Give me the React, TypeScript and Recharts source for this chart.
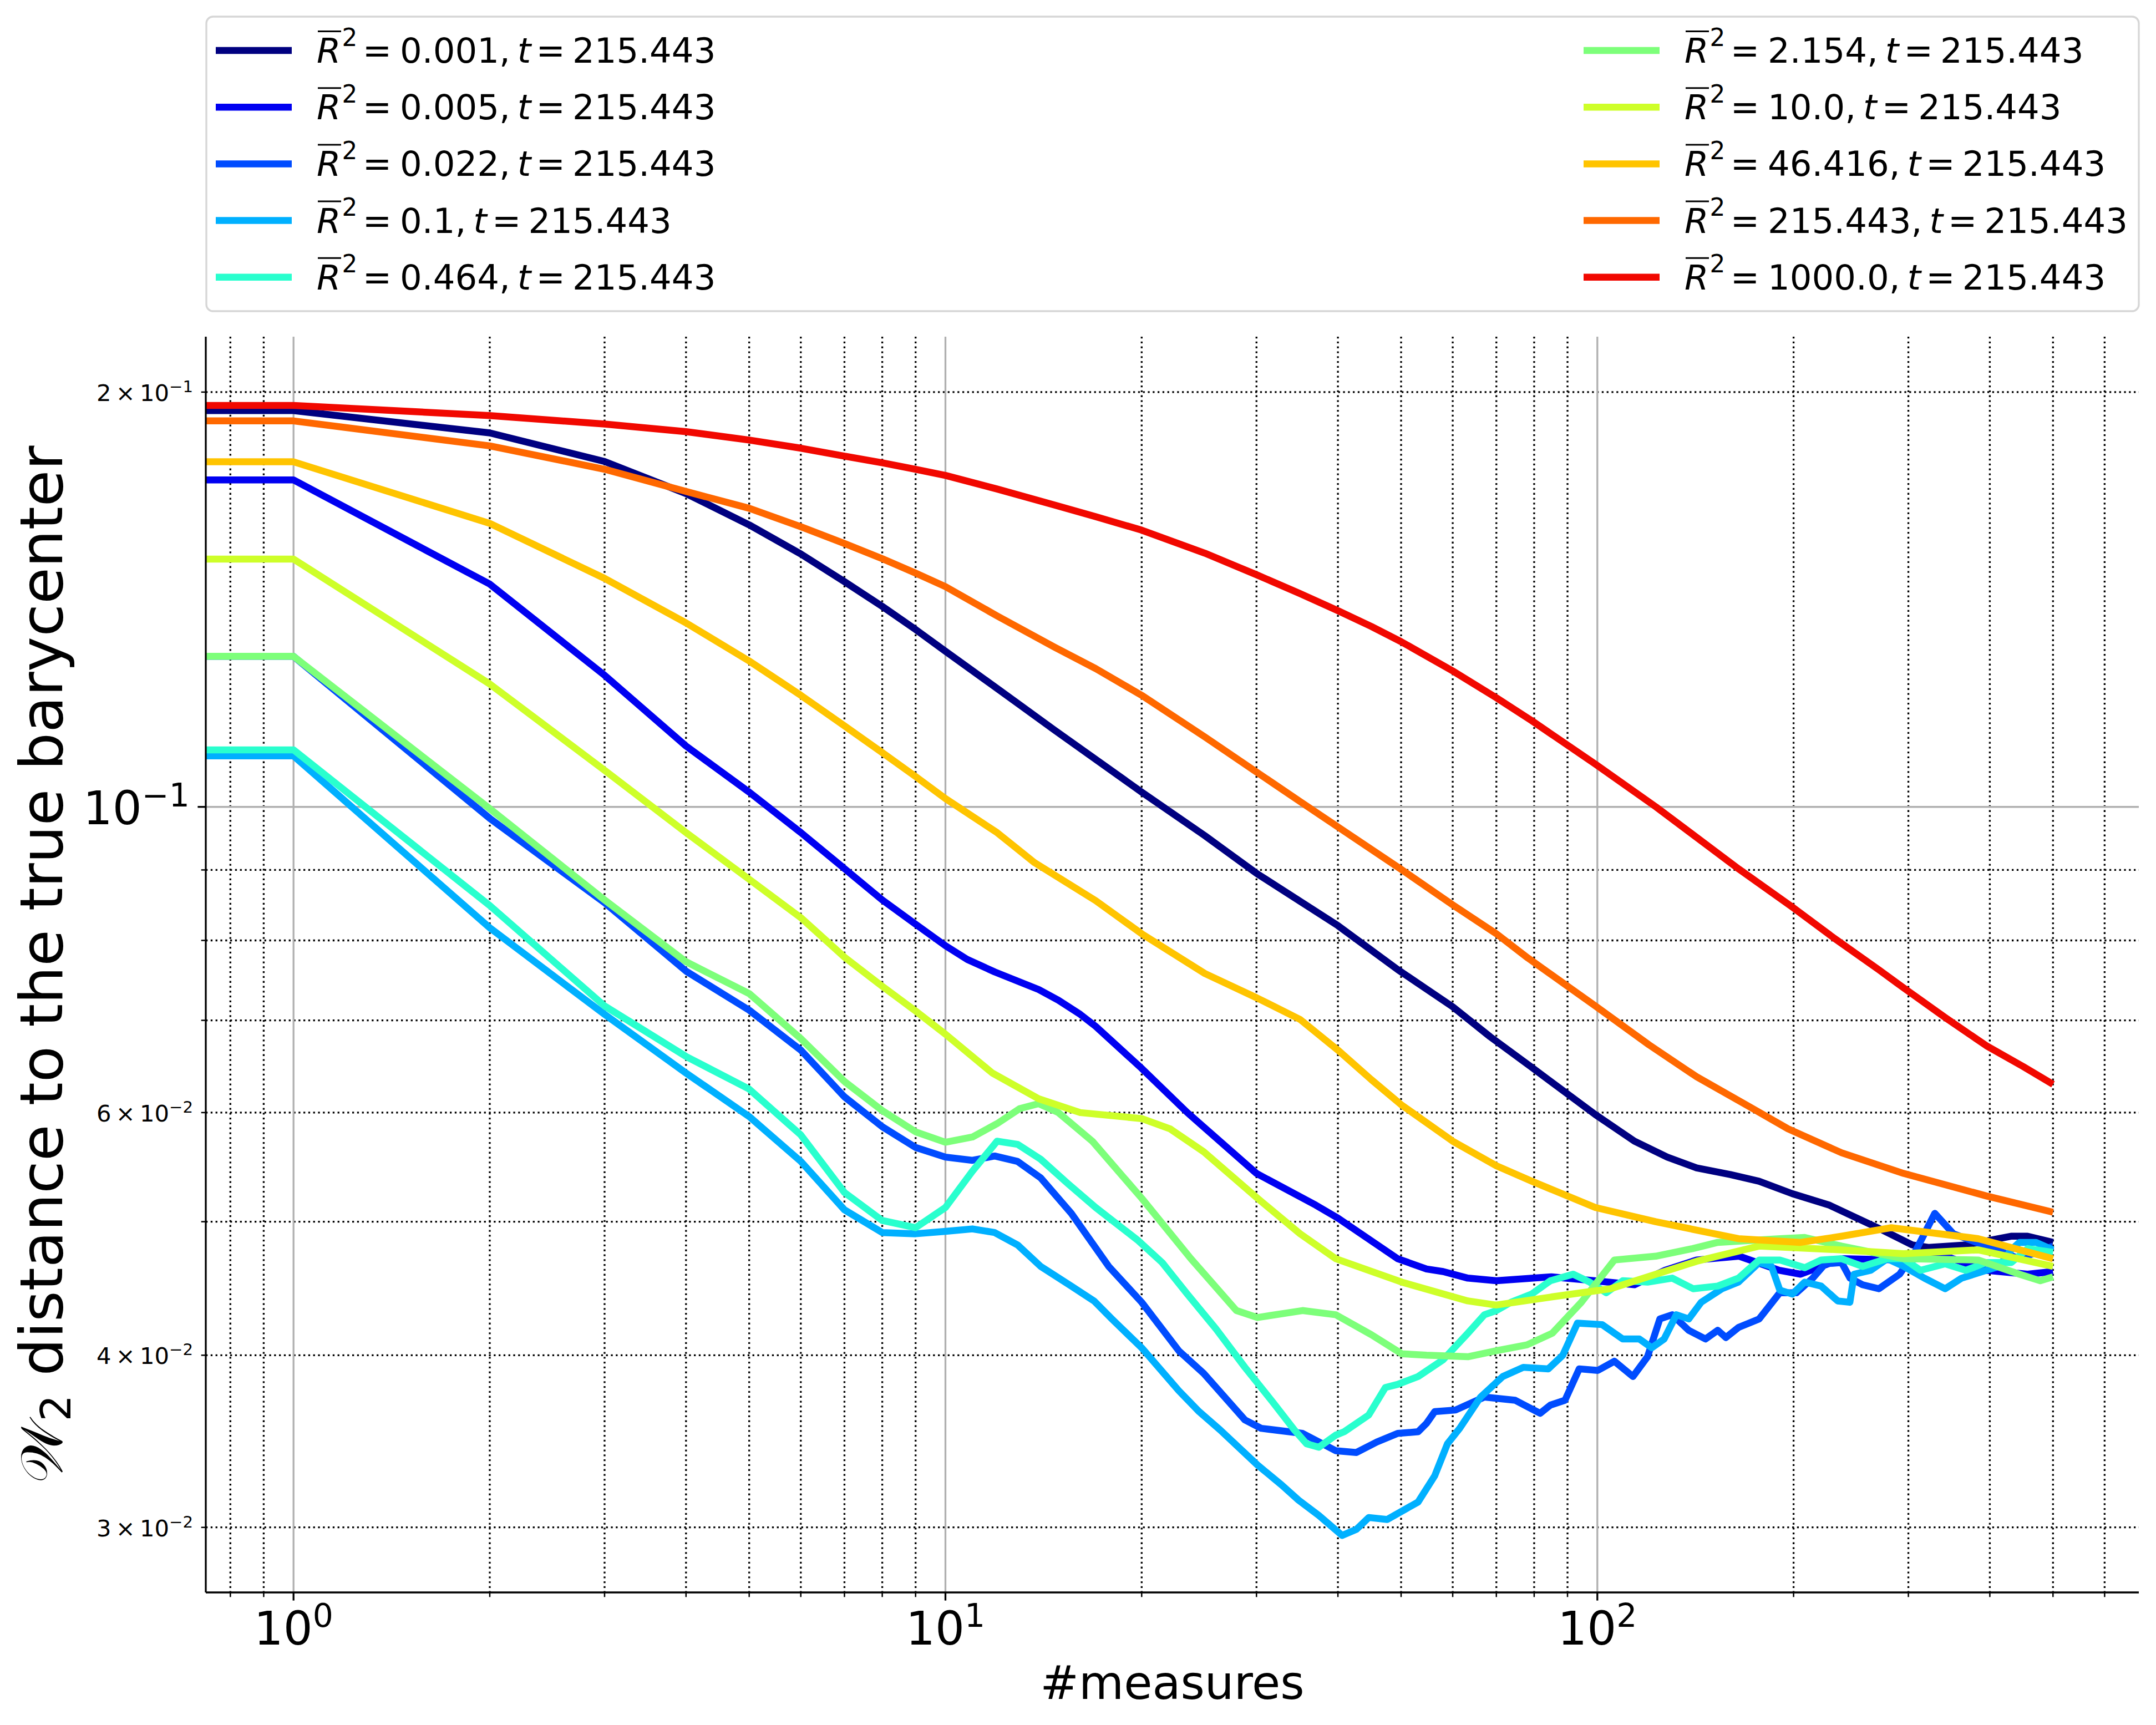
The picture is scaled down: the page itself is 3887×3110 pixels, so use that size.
import React from 'react'
import { LineChart, Line, XAxis, YAxis, CartesianGrid, Label } from 'recharts'

type Pt = [number, number]

const FONT = '"DejaVu Sans", sans-serif'
const T_LABEL = '215.443'
const R2_LABELS = ['0.001', '0.005', '0.022', '0.1', '0.464', '2.154', '10.0', '46.416', '215.443', '1000.0']
const COLORS = ['#000080', '#0000f1', '#004cff', '#00b0ff', '#29ffce', '#7dff7a', '#ceff29', '#ffc400', '#ff6800', '#f10800']

// W2 distance vs number of measures, one array per R^2 value
const w2_0001: Pt[] = [
  [1, 0.1939], [2, 0.1868], [3, 0.1781], [4, 0.1688], [5, 0.1602], [6, 0.1526], [7, 0.1457], [8, 0.1398],
  [9, 0.1345], [10, 0.1297], [12, 0.1219], [14.7, 0.1137], [20, 0.1025], [25, 0.0953], [30, 0.0895],
  [40, 0.082], [49.4, 0.0762], [60, 0.0716], [68.5, 0.0681], [79, 0.0648], [99.3, 0.0598], [114, 0.0572],
  [128, 0.0557], [142, 0.0547], [160, 0.0541], [177, 0.0535], [199, 0.0524], [227, 0.0514], [274, 0.0493],
  [304, 0.0481], [322, 0.0479], [368, 0.0481], [431, 0.0488], [457, 0.0488], [500, 0.0483],
]
const w2_0005: Pt[] = [
  [1, 0.1727], [2, 0.1451], [3, 0.1246], [4, 0.1107], [5, 0.1025], [6, 0.0958], [7, 0.0902], [8, 0.0856],
  [9, 0.0822], [10, 0.0793], [10.8, 0.0775], [11.9, 0.0759], [13.9, 0.0737], [14.9, 0.0724], [16.1, 0.0707],
  [17, 0.0693], [20, 0.0646], [23.5, 0.06], [30, 0.0542], [37, 0.0514], [40, 0.0503], [49.4, 0.047],
  [54.7, 0.0462], [58, 0.046], [63.3, 0.0455], [70, 0.0453], [85, 0.0456], [99, 0.0453], [114, 0.045],
  [127, 0.0461], [142, 0.0469], [165, 0.0472], [190, 0.0461], [205, 0.0458], [237, 0.047], [295, 0.0469],
  [342, 0.0472], [395, 0.0461], [457, 0.0458], [500, 0.046],
]
const w2_0022: Pt[] = [
  [1, 0.1286], [2, 0.0981], [3, 0.0852], [4, 0.076], [5, 0.0712], [6, 0.0666], [7, 0.0616], [8, 0.0586],
  [9, 0.0566], [10, 0.0557], [11, 0.0554], [11.9, 0.0558], [12.9, 0.0553], [14, 0.0538], [15.6, 0.0507],
  [17.8, 0.0464], [20, 0.0437], [22.8, 0.0403], [24.9, 0.0388], [28.8, 0.0359], [30.5, 0.0354],
  [35.3, 0.0351], [39.7, 0.0341], [42.7, 0.034], [45.9, 0.0346], [49.4, 0.0351], [53.1, 0.0352],
  [54.7, 0.0357], [56.3, 0.0364], [60.6, 0.0365], [67.1, 0.0373], [74.8, 0.0371], [81.7, 0.0363],
  [84.7, 0.0368], [89.2, 0.0371], [93.8, 0.0391], [100.2, 0.039], [106.2, 0.0396], [113.4, 0.0386],
  [119.4, 0.0399], [124.7, 0.0425], [130.3, 0.0428], [138.1, 0.0417], [146.5, 0.0411], [153, 0.0417],
  [157.5, 0.0412], [164.6, 0.0419], [177.1, 0.0425], [190.5, 0.0444], [202, 0.0444], [214, 0.0455],
  [223.6, 0.0466], [237, 0.0467], [244.1, 0.0455], [255.1, 0.045], [270.4, 0.0447], [290.9, 0.0458],
  [308.4, 0.0477], [329.3, 0.0507], [351.7, 0.049], [395.4, 0.048], [444, 0.047], [500, 0.048],
]
const w2_01: Pt[] = [
  [1, 0.1089], [2, 0.0817], [3, 0.0707], [4, 0.0641], [5, 0.0596], [6, 0.0553], [7, 0.051], [8, 0.0491],
  [9, 0.049], [10, 0.0492], [11, 0.0494], [11.9, 0.0491], [12.9, 0.0481], [14, 0.0464], [15.6, 0.0449],
  [16.9, 0.0438], [18, 0.0425], [20, 0.0405], [22.8, 0.0377], [24.5, 0.0364], [26.4, 0.0353], [30.1, 0.0333],
  [32.8, 0.0322], [34.8, 0.0314], [37.4, 0.0306], [40.6, 0.0296], [42.7, 0.0299], [44.6, 0.0305],
  [47.6, 0.0304], [53.1, 0.0313], [56.3, 0.0327], [58.9, 0.0345], [61.5, 0.0354], [66.2, 0.0373],
  [71.6, 0.0386], [77, 0.0392], [84.1, 0.0391], [88.5, 0.04], [93.2, 0.0422], [101.7, 0.0421],
  [109.4, 0.0411], [116, 0.0411], [121.2, 0.0405], [126.6, 0.0411], [132.2, 0.0428], [138.1, 0.0425],
  [144.3, 0.0437], [155.3, 0.0447], [164.6, 0.0452], [177.1, 0.0467], [185, 0.0464], [190.5, 0.0446],
  [199.1, 0.0443], [208, 0.0452], [220.4, 0.0449], [233.7, 0.0438], [244, 0.0437], [247.7, 0.0458],
  [262.7, 0.0461], [278.4, 0.047], [295.2, 0.0464], [317.5, 0.0455], [341.6, 0.0447], [362.2, 0.0455],
  [389.5, 0.046], [412.9, 0.0464], [431.4, 0.0477], [444, 0.0483], [470.9, 0.0483], [500, 0.0477],
]
const w2_0464: Pt[] = [
  [1, 0.11], [2, 0.0848], [3, 0.0717], [4, 0.0659], [5, 0.0624], [6, 0.0578], [7, 0.0525], [8, 0.0501],
  [9, 0.0495], [10, 0.0512], [11, 0.0544], [12, 0.0572], [12.9, 0.0569], [14, 0.0555], [15.4, 0.0533],
  [17, 0.0512], [19.7, 0.0485], [21.5, 0.0467], [23.5, 0.0443], [26, 0.0418], [28.8, 0.0392], [31.9, 0.0369],
  [34.3, 0.0353], [35.8, 0.0345], [37.4, 0.0343], [39.7, 0.035], [40.9, 0.0352], [44.6, 0.0362],
  [47.3, 0.0379], [49.4, 0.0381], [53.1, 0.0386], [58, 0.0397], [63.3, 0.0415], [67.1, 0.0428], [70, 0.0431],
  [73.7, 0.0437], [79.3, 0.0443], [84.7, 0.0453], [91.8, 0.0458], [97.3, 0.0452], [103.2, 0.0444],
  [109.4, 0.0453], [119.4, 0.0452], [130.3, 0.0455], [140.3, 0.0447], [153, 0.0449], [164.6, 0.0455],
  [177.1, 0.0469], [190.5, 0.0469], [208, 0.0463], [220.4, 0.0469], [237, 0.047], [255.1, 0.0464],
  [278.4, 0.047], [295, 0.047], [313, 0.0461], [341.6, 0.0466], [367.5, 0.0461], [395.4, 0.0467],
  [431.4, 0.0467], [457.3, 0.0478], [500, 0.0475],
]
const w2_2154: Pt[] = [
  [1, 0.1286], [2, 0.0997], [3, 0.0856], [4, 0.0772], [5, 0.0732], [6, 0.0679], [7, 0.0632], [8, 0.0602],
  [9, 0.0581], [10, 0.0571], [11, 0.0576], [12, 0.0589], [13, 0.0604], [13.9, 0.0609], [14.9, 0.06],
  [16.8, 0.0572], [20, 0.052], [23.8, 0.047], [27.95, 0.0431], [30.1, 0.0426], [35.3, 0.0431], [39.7, 0.0428],
  [45, 0.0414], [50.1, 0.0401], [54.7, 0.04], [63.3, 0.0399], [69.9, 0.0403], [78, 0.0407], [85.3, 0.0415],
  [94.5, 0.0437], [106.2, 0.0469], [122.9, 0.0472], [140, 0.0478], [153, 0.0483], [190.5, 0.0486],
  [208, 0.0487], [237, 0.048], [295, 0.047], [384, 0.0469], [444, 0.0458], [478, 0.0453], [500, 0.0456],
]
const w2_10: Pt[] = [
  [1, 0.1513], [2, 0.1228], [3, 0.1063], [4, 0.0958], [5, 0.0886], [6, 0.0831], [7, 0.0778], [8, 0.0741],
  [9, 0.0711], [10, 0.0684], [11.8, 0.0641], [13.9, 0.0614], [16.1, 0.06], [20, 0.0594], [22.1, 0.0584],
  [24.9, 0.0562], [30.1, 0.052], [35, 0.049], [39.7, 0.047], [50.1, 0.0452], [63.3, 0.0438], [69.9, 0.0435],
  [85.3, 0.0441], [104.7, 0.0447], [142, 0.0468], [177, 0.048], [237, 0.0477], [295, 0.0474], [384, 0.0477],
  [500, 0.0464],
]
const w2_46416: Pt[] = [
  [1, 0.178], [2, 0.1606], [3, 0.1465], [4, 0.136], [5, 0.1276], [6, 0.1205], [7, 0.1145], [8, 0.1095],
  [9, 0.1052], [10, 0.1014], [12, 0.0958], [13.7, 0.0911], [17, 0.0855], [20, 0.0809], [25, 0.0757],
  [30, 0.0727], [35, 0.0701], [40, 0.0666], [45, 0.0634], [50, 0.0608], [60, 0.0572], [70, 0.0549],
  [79.3, 0.0535], [99.3, 0.0512], [122.9, 0.05], [164.6, 0.0486], [205, 0.0483], [237, 0.0488],
  [282.5, 0.0495], [383.9, 0.0486], [500, 0.047],
]
const w2_215443: Pt[] = [
  [1, 0.1906], [2, 0.1828], [3, 0.1758], [4, 0.1694], [5, 0.1647], [6, 0.1597], [7, 0.1553], [8, 0.1514],
  [9, 0.1478], [10, 0.1445], [12, 0.1376], [14.7, 0.1306], [17, 0.126], [20, 0.1205], [25, 0.1124],
  [30, 0.106], [35, 0.1009], [40, 0.0967], [50, 0.0901], [60, 0.0849], [70, 0.0809], [78.2, 0.0777],
  [99.3, 0.0717], [120, 0.0672], [142, 0.0637], [170, 0.0607], [196, 0.0584], [237, 0.0561], [295, 0.0542],
  [395, 0.0522], [500, 0.0508],
]
const w2_1000: Pt[] = [
  [1, 0.1956], [2, 0.1923], [3, 0.1896], [4, 0.1872], [5, 0.1846], [6, 0.1821], [7, 0.1797], [8, 0.1777],
  [9, 0.1758], [10, 0.174], [12, 0.1701], [14.7, 0.1656], [17, 0.1624], [20, 0.1588], [25, 0.1528],
  [30, 0.1474], [35, 0.1428], [40, 0.1388], [45, 0.1352], [50, 0.1318], [60, 0.1255], [70, 0.12],
  [79.3, 0.1155], [99.3, 0.1074], [123, 0.1], [165, 0.0901], [199, 0.0846], [230, 0.0804], [270, 0.0762],
  [295, 0.0739], [342, 0.0703], [395, 0.0671], [450, 0.0648], [500, 0.0629],
]

const SERIES = [w2_0001, w2_0005, w2_0022, w2_01, w2_0464, w2_2154, w2_10, w2_46416, w2_215443, w2_1000]

// axis limits and ticks (log-log)
const X_DOMAIN: [number, number] = [0.7335, 677]
const Y_DOMAIN: [number, number] = [0.02691, 0.2194]
const X_MAJOR = [1, 10, 100]
const X_MINOR = [0.8, 0.9, 2, 3, 4, 5, 6, 7, 8, 9, 20, 30, 40, 50, 60, 70, 80, 90, 200, 300, 400, 500, 600]
const Y_MAJOR = [0.1]
const Y_MINOR = [0.03, 0.04, 0.05, 0.06, 0.07, 0.08, 0.09, 0.2]
const Y_LABELED = [0.03, 0.04, 0.06, 0.2]
// the first point sits at x = 0, which a log axis sends off the left edge
const CLIP_X = 0.5

const W = 3887
const H = 3110
const PLOT = { left: 371, top: 607, right: 3856, bottom: 2871 }
const Y_AXIS_W = 300
const X_AXIS_H = 200
const LINE_W = 12.5

const toRows = (pts: Pt[]) => [{ x: CLIP_X, y: pts[0][1] }, ...pts.map(([x, y]) => ({ x, y }))]

const minus = (n: number) => (n < 0 ? '\u2212' + Math.abs(n) : String(n))

const XTick = (props: any) => {
  const { x, y, payload } = props
  const v: number = payload.value
  const major = X_MAJOR.includes(v)
  const exp = Math.round(Math.log10(v))
  return (
    <g>
      <line x1={x} x2={x} y1={y} y2={y + (major ? 14.6 : 8.3)} stroke="#000" strokeWidth={major ? 3.3 : 2.5} />
      {major && (
        <text x={x} y={y + 94} textAnchor="middle" fontSize={83.3} fontFamily={FONT} fill="#000">
          10<tspan fontSize={58.3} dy={-32}>{minus(exp)}</tspan>
        </text>
      )}
    </g>
  )
}

const YTick = (props: any) => {
  const { x, y, payload } = props
  const v: number = payload.value
  const major = Y_MAJOR.includes(v)
  const len = major ? 14.6 : 8.3
  const exp = Math.floor(Math.log10(v) + 1e-9)
  const mant = Math.round(v / Math.pow(10, exp))
  let label = null
  if (major) {
    label = (
      <text x={x - len - 14.6} y={y + 31.6} textAnchor="end" fontSize={83.3} fontFamily={FONT} fill="#000">
        10<tspan fontSize={58.3} dy={-32}>{minus(exp)}</tspan>
      </text>
    )
  } else if (Y_LABELED.some((l) => Math.abs(l - v) < 1e-9)) {
    label = (
      <text x={x - len - 14.6} y={y + 15.8} textAnchor="end" fontSize={41.7} fontFamily={FONT} fill="#000">
        {mant + '\u2009\u00d7\u200910'}<tspan fontSize={29.2} dy={-16}>{minus(exp)}</tspan>
      </text>
    )
  }
  return (
    <g>
      <line x1={x} x2={x - len} y1={y} y2={y} stroke="#000" strokeWidth={major ? 3.3 : 2.5} />
      {label}
    </g>
  )
}

const XTitle = () => (
  <text x={(PLOT.left + PLOT.right) / 2} y={3063} textAnchor="middle" fontSize={83.3} fontFamily={FONT} fill="#000">
    #measures
  </text>
)

const YTitle = () => {
  const cx = 112
  const cy = (PLOT.top + PLOT.bottom) / 2
  return (
    <text x={cx} y={cy} transform={`rotate(-90, ${cx}, ${cy})`} textAnchor="middle" fontSize={107} fontFamily={FONT} fill="#000">
      <tspan>{'\u{1D4B2}'}</tspan>
      <tspan fontSize={75} dy={15}>2</tspan>
      <tspan dy={-15} dx={34}>distance to the true barycenter</tspan>
    </text>
  )
}

const LegendEntry = ({ i }: { i: number }) => {
  const col = i < 5 ? 0 : 1
  const row = i % 5
  const lx = col === 0 ? 389 : 2855
  const tx = col === 0 ? 571 : 3037
  const base = 113 + row * 102.2
  return (
    <g>
      <line x1={lx} x2={lx + 137} y1={base - 22} y2={base - 22} stroke={COLORS[i]} strokeWidth={LINE_W} />
      <line x1={tx + 2} x2={tx + 44} y1={base - 56.5} y2={base - 56.5} stroke="#000" strokeWidth={3} />
      <text x={tx} y={base} fontSize={62.5} fontFamily={FONT} fill="#000">
        <tspan fontStyle="italic">R</tspan>
        <tspan dx={2} dy={-30.5} fontSize={43.75}>2</tspan>
        <tspan dx={9.4} dy={30.5}>=</tspan>
        <tspan dx={15}>{R2_LABELS[i] + ','}</tspan>
        <tspan dx={13} fontStyle="italic">t</tspan>
        <tspan dx={9.2}>=</tspan>
        <tspan dx={13}>{T_LABEL}</tspan>
      </text>
    </g>
  )
}

export default function App() {
  return (
    <div style={{ position: 'absolute', left: 0, top: 0, width: W, height: H, background: '#fff' }}>
      <LineChart
        width={W}
        height={H}
        margin={{ top: PLOT.top, right: W - PLOT.right, bottom: H - PLOT.bottom - X_AXIS_H, left: PLOT.left - Y_AXIS_W }}
      >
        <CartesianGrid
          verticalValues={X_MINOR}
          horizontalValues={Y_MINOR}
          stroke="#000"
          strokeWidth={3.3}
          strokeDasharray="3.3 5.5"
        />
        <CartesianGrid verticalValues={X_MAJOR} horizontalValues={Y_MAJOR} stroke="#b0b0b0" strokeWidth={3.3} />
        <XAxis
          dataKey="x"
          type="number"
          scale="log"
          domain={X_DOMAIN}
          allowDataOverflow
          ticks={[...X_MINOR, ...X_MAJOR].sort((a, b) => a - b)}
          interval={0}
          tick={XTick}
          tickLine={false}
          tickSize={0}
          tickMargin={0}
          height={X_AXIS_H}
          axisLine={{ stroke: '#000', strokeWidth: 3.3 }}
        >
          <Label content={XTitle} />
        </XAxis>
        <YAxis
          dataKey="y"
          type="number"
          scale="log"
          domain={Y_DOMAIN}
          allowDataOverflow
          ticks={[...Y_MINOR, ...Y_MAJOR].sort((a, b) => a - b)}
          interval={0}
          tick={YTick}
          tickLine={false}
          tickSize={0}
          tickMargin={0}
          width={Y_AXIS_W}
          axisLine={{ stroke: '#000', strokeWidth: 3.3 }}
        >
          <Label content={YTitle} />
        </YAxis>
        <XAxis
          xAxisId="top"
          orientation="top"
          type="number"
          scale="log"
          domain={X_DOMAIN}
          allowDataOverflow
          tick={false}
          tickLine={false}
          height={0}
          axisLine={{ stroke: '#000', strokeWidth: 3.3 }}
        />
        <YAxis
          yAxisId="right"
          orientation="right"
          type="number"
          scale="log"
          domain={Y_DOMAIN}
          allowDataOverflow
          tick={false}
          tickLine={false}
          width={0}
          axisLine={{ stroke: '#000', strokeWidth: 3.3 }}
        />
        {SERIES.map((pts, i) => (
          <Line
            key={R2_LABELS[i]}
            data={toRows(pts)}
            dataKey="y"
            type="linear"
            stroke={COLORS[i]}
            strokeWidth={LINE_W}
            strokeLinejoin="round"
            dot={false}
            activeDot={false}
            isAnimationActive={false}
          />
        ))}
      </LineChart>
      <svg width={W} height={600} style={{ position: 'absolute', left: 0, top: 0, pointerEvents: 'none' }}>
        <rect x={372} y={30} width={3484} height={531} rx={12} fill="#fff" fillOpacity={0.8} stroke="#d6d6d6" strokeWidth={3.3} />
        {R2_LABELS.map((_, i) => (
          <LegendEntry key={i} i={i} />
        ))}
      </svg>
    </div>
  )
}
